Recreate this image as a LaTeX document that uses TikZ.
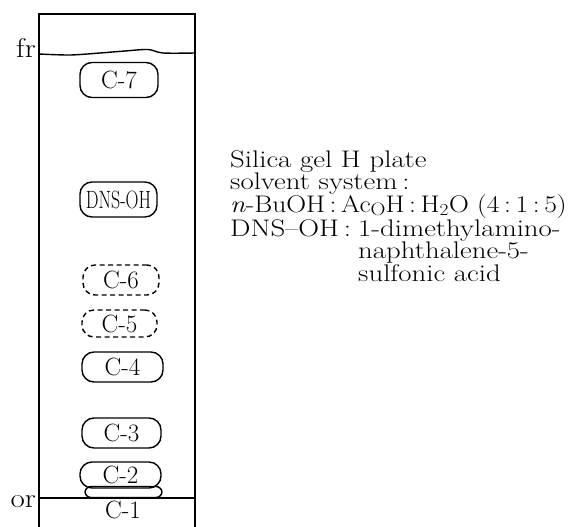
\documentclass[tikz,border=0pt]{standalone}
\usepackage{fontspec}
\usepackage{graphicx}
\newcommand\bigtxtfont{\fontsize{24}{23}\selectfont}
\newcommand\spotlblfont{\fontsize{25}{25}\selectfont}
\newcommand\wide[1]{\scalebox{1.2}[1]{#1}}
\begin{document}
\begin{tikzpicture}[x=1pt,y=-1pt,
  plateline/.style={line width=1.4pt},
  spot/.style={draw, line width=1.4pt, rounded corners=12pt, inner sep=0pt, font=\spotlblfont},
  dspot/.style={spot, dash pattern=on 5pt off 3.5pt},
  lbl/.style={font=\spotlblfont, inner sep=0pt},
  txt/.style={font=\bigtxtfont, anchor=base west, inner sep=0pt}]
\useasboundingbox (0,0) rectangle (570,527);
% plate
\draw[plateline] (39,527) -- (39,14) -- (195,14) -- (195,527);
\draw[plateline] plot[smooth] coordinates {(39,54) (70,55) (100,53) (125,51) (148,49.5) (163,53) (195,53)};
\draw[plateline] (39,498) -- (195,498);
\node[txt, anchor=base east, font=\fontsize{27}{27}\selectfont] (fr) at (36,58) {\scalebox{1.15}[1]{fr}};
\node[txt, anchor=base east, font=\fontsize{27}{27}\selectfont] (or) at (36,507) {\scalebox{1.15}[1]{or}};
% spots
\node[spot, minimum width=78pt, minimum height=35pt] (c7) at (119,80) {C-7};
\node[spot, minimum width=77pt, minimum height=35pt] (dns) at (118.5,199.5) {\scalebox{0.72}[1]{DNS-OH}};
\node[dspot, minimum width=76pt, minimum height=30pt] (c6) at (121,280) {C-6};
\node[dspot, minimum width=75pt, minimum height=27pt] (c5) at (119.5,323.5) {C-5};
\node[spot, minimum width=81pt, minimum height=30pt] (c4) at (122.5,367) {C-4};
\node[spot, minimum width=79pt, minimum height=30pt] (c3) at (121.5,433) {C-3};
\node[spot, minimum width=81pt, minimum height=26pt] (c2) at (120.5,475) {C-2};
\node[spot, rounded corners=6pt, minimum width=77pt, minimum height=11pt] (c1spot) at (123.5,492) {};
\node[lbl] (c1) at (123,510) {C-1};
% legend
\node[txt] (l1) at (230,167) {\wide{Silica gel H plate}};
\node[txt] (l2) at (230,189.5) {\wide{solvent system\,:}};
\node[txt] (l3) at (230,212) {\raisebox{0pt}[\height][0pt]{\scalebox{1.146}[1]{\textit{n}-BuOH\,:\,Ac\raisebox{-0.3ex}{\fontsize{18}{18}\selectfont O}H\,:\,H\textsubscript{2}O (4\,:\,1\,:\,5)}}};
\node[txt] (l4) at (230,236) {\wide{DNS--OH\,:}};
\node[txt] (l4b) at (358,236) {\wide{1-dimethylamino-}};
\node[txt] (l5) at (358,258.5) {\wide{naphthalene-5-}};
\node[txt] (l6) at (358,281) {\wide{sulfonic acid}};
\end{tikzpicture}
\end{document}
